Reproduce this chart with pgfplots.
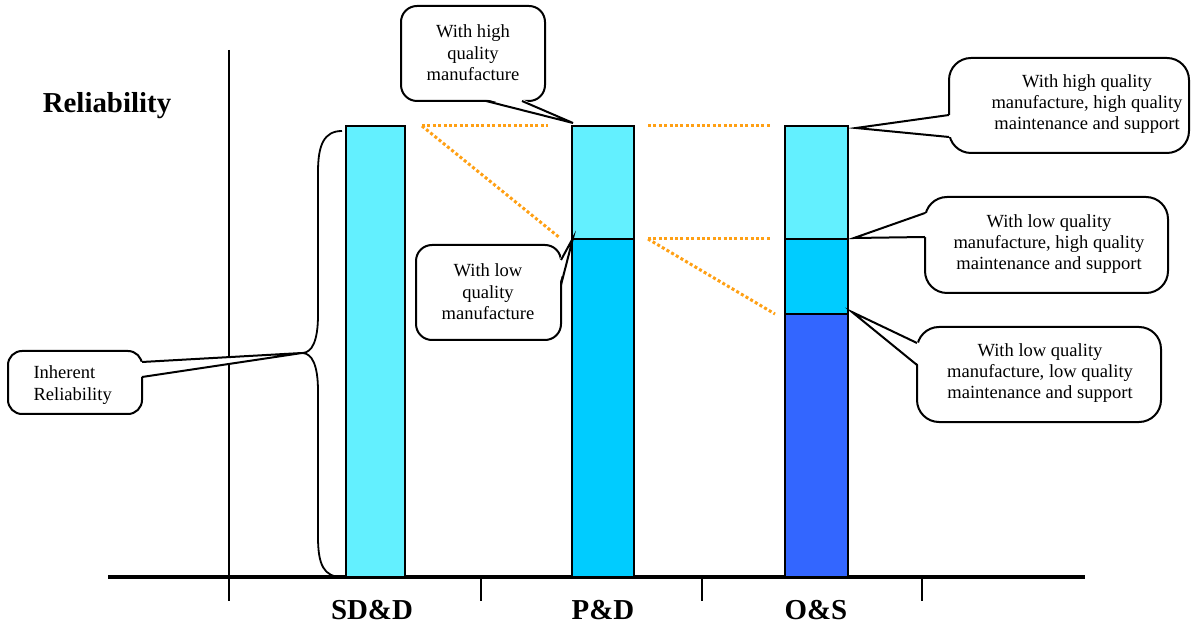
\documentclass[border=0pt]{standalone}
\usepackage{pgfplots}
\pgfplotsset{compat=1.18}
\usepackage{fontspec}
\setmainfont{Liberation Serif}
\definecolor{lightc}{RGB}{99,240,255}
\definecolor{midc}{RGB}{0,204,255}
\definecolor{darkc}{RGB}{51,102,255}
\definecolor{orng}{RGB}{255,160,20}
\newcommand\callfont{\fontsize{18.6}{21.5}\selectfont}
\begin{document}
\begin{tikzpicture}
\begin{axis}[
  scale only axis, width=1191bp, height=626bp,
  xmin=0, xmax=1191, ymin=-49, ymax=577,
  axis lines=none, clip=false, no markers,
]
\path (axis cs:0,-49) rectangle (axis cs:1191,577);
% axes
\addplot[black, line width=2.2bp] coordinates {(229,527) (229,-24)};
\addplot[black, line width=3.2bp] coordinates {(108,0) (1085,0)};
\addplot[black, line width=2.2bp] coordinates {(481,0) (481,-24)};
\addplot[black, line width=2.2bp] coordinates {(702,0) (702,-24)};
\addplot[black, line width=2.2bp] coordinates {(922,0) (922,-24)};
% bars
\addplot[ybar, bar width=59, bar shift=0pt, fill=lightc, draw=black, line width=2.8bp] coordinates {(375.5,451)};
\addplot[ybar, bar width=62, bar shift=0pt, fill=lightc, draw=black, line width=2.8bp] coordinates {(603,451)};
\addplot[ybar, bar width=62, bar shift=0pt, fill=midc, draw=black, line width=2.8bp] coordinates {(603,338)};
\addplot[ybar, bar width=63, bar shift=0pt, fill=lightc, draw=black, line width=2.8bp] coordinates {(816.5,451)};
\addplot[ybar, bar width=63, bar shift=0pt, fill=midc, draw=black, line width=2.8bp] coordinates {(816.5,338)};
\addplot[ybar, bar width=63, bar shift=0pt, fill=darkc, draw=black, line width=2.8bp] coordinates {(816.5,263)};
% orange dotted guides
\addplot[orng, line width=3bp, dash pattern=on 3bp off 2.4bp] coordinates {(422,451) (548,451)};
\addplot[orng, line width=3bp, dash pattern=on 3bp off 2.4bp] coordinates {(422,451) (560,339)};
\addplot[orng, line width=3bp, dash pattern=on 3bp off 2.4bp] coordinates {(648,451) (772,451)};
\addplot[orng, line width=3bp, dash pattern=on 3bp off 2.4bp] coordinates {(648,338) (772,338)};
\addplot[orng, line width=3bp, dash pattern=on 3bp off 2.4bp] coordinates {(648,338) (775,263)};
% brace
\draw[line width=1.8bp] (axis cs:342,446) .. controls (axis cs:324,446) and (axis cs:318,432) .. (axis cs:318,405)
  -- (axis cs:318,262) .. controls (axis cs:318,236) and (axis cs:312,224) .. (axis cs:302,224)
  .. controls (axis cs:312,224) and (axis cs:318,212) .. (axis cs:318,186)
  -- (axis cs:318,40) .. controls (axis cs:318,12) and (axis cs:324,0) .. (axis cs:342,0);
% labels
\node[font=\fontsize{29}{31}\selectfont\bfseries] at (axis cs:107,471) {Reliability};
\node[font=\fontsize{29}{31}\selectfont\bfseries] at (axis cs:372,-33) {SD\&D};
\node[font=\fontsize{29}{31}\selectfont\bfseries] at (axis cs:603,-33) {P\&D};
\node[font=\fontsize{29}{31}\selectfont\bfseries] at (axis cs:816,-33) {O\&S};
% callout 1
\draw[rounded corners=16bp, line width=2bp, fill=white] (axis cs:401,476) rectangle (axis cs:545,571);
\fill[white] (axis cs:486,478) -- (axis cs:573,454) -- (axis cs:522,478) -- cycle;
\draw[line width=2bp] (axis cs:486,476) -- (axis cs:573,454) -- (axis cs:522,476);
\node[align=center, font=\callfont] at (axis cs:473,524) {With high\\quality\\manufacture};
% callout 2
\draw[rounded corners=16bp, line width=2bp, fill=white] (axis cs:416,237) rectangle (axis cs:561,332);
\fill[white] (axis cs:559,317) -- (axis cs:573,339) -- (axis cs:559,292) -- cycle;
\draw[line width=2bp] (axis cs:561,317) -- (axis cs:573,339) -- (axis cs:561,292);
\node[align=center, font=\callfont] at (axis cs:488,285) {With low\\quality\\manufacture};
% callout 3
\draw[rounded corners=22bp, line width=2bp, fill=white] (axis cs:949,424) rectangle (axis cs:1189,519);
\fill[white] (axis cs:951,462) -- (axis cs:856,449) -- (axis cs:951,440) -- cycle;
\draw[line width=2bp] (axis cs:949,462) -- (axis cs:856,449) -- (axis cs:949,440);
\node[align=center, font=\callfont] at (axis cs:1087,473) {With high quality\\manufacture, high quality\\maintenance and support};
% callout 4
\draw[rounded corners=22bp, line width=2bp, fill=white] (axis cs:925,284) rectangle (axis cs:1168,380);
\fill[white] (axis cs:927,364) -- (axis cs:854,339) -- (axis cs:927,340) -- cycle;
\draw[line width=2bp] (axis cs:925,364) -- (axis cs:854,339) -- (axis cs:925,340);
\node[align=center, font=\callfont] at (axis cs:1049,333) {With low quality\\manufacture, high quality\\maintenance and support};
% callout 5
\draw[rounded corners=22bp, line width=2bp, fill=white] (axis cs:917,155) rectangle (axis cs:1161,250);
\fill[white] (axis cs:919,234) -- (axis cs:852,265) -- (axis cs:919,212) -- cycle;
\draw[line width=2bp] (axis cs:917,234) -- (axis cs:852,265) -- (axis cs:917,212);
\node[align=center, font=\callfont] at (axis cs:1040,204) {With low quality\\manufacture, low quality\\maintenance and support};
% callout 6
\draw[rounded corners=14bp, line width=2bp, fill=white] (axis cs:8,163) rectangle (axis cs:142,226);
\fill[white] (axis cs:140,215) -- (axis cs:302,224) -- (axis cs:140,200) -- cycle;
\draw[line width=2bp] (axis cs:142,215) -- (axis cs:302,224) -- (axis cs:142,200);
\node[align=left, anchor=west, font=\callfont] at (axis cs:30,192) {Inherent\\Reliability};
\end{axis}
\end{tikzpicture}
\end{document}
